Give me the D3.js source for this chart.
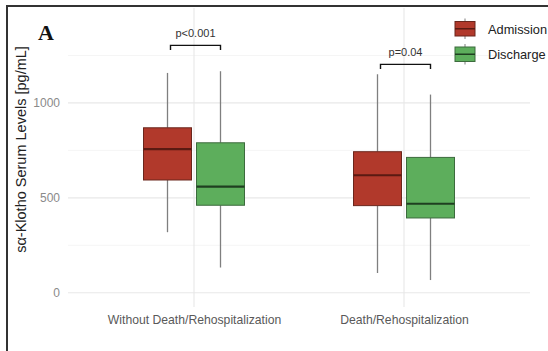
<!DOCTYPE html>
<html><head><meta charset="utf-8">
<script src="https://cdn.jsdelivr.net/npm/d3@7"></script>
<style>body{margin:0;background:#fff}svg{display:block}</style>
</head><body>
<svg id="c" width="548" height="351"></svg>
<script>
const groups = ["Without Death/Rehospitalization", "Death/Rehospitalization"];
const series = ["Admission", "Discharge"];
// [whiskerLow, q1, median, q3, whiskerHigh] per group
const admission = [[319, 594, 757, 869, 1158], [104, 459, 619, 743, 1151]];
const discharge = [[133, 461, 559, 790, 1167], [67, 394, 469, 713, 1044]];
const pLabels = ["p<0.001", "p=0.04"];
const pBracket = [1303, 1203];
const yTicks = [0, 500, 1000];
const yMinor = [250, 750, 1250];

const svg = d3.select("#c");
const fills = {Admission: "#b1392b", Discharge: "#5dae5c"};
const strokes = {Admission: "#6a261c", Discharge: "#3c6b3d"};
const meds = {Admission: "#5a1a12", Discharge: "#1f3f20"};

const y = d3.scaleLinear().domain([-75, 1500]).range([307, 8]);
const x = d3.scalePoint().domain(groups).range([68, 530]).padding(0.6);
const off = d3.scalePoint().domain(series).range([-26.5, 26.5]);
const bw = 48;

// frame
svg.append("line").attr("x1", 7).attr("x2", 7).attr("y1", 6).attr("y2", 351).attr("stroke", "#333").attr("stroke-width", 2);
svg.append("line").attr("x1", 6).attr("x2", 548).attr("y1", 6).attr("y2", 6).attr("stroke", "#333").attr("stroke-width", 2);

const g = svg.append("g");
// grid
g.selectAll(".minor").data(yMinor).join("line")
  .attr("x1", 68).attr("x2", 530).attr("y1", d => y(d)).attr("y2", d => y(d))
  .attr("stroke", "#f3f3f3").attr("stroke-width", 0.8);
g.selectAll(".major").data(yTicks).join("line")
  .attr("x1", 68).attr("x2", 530).attr("y1", d => y(d)).attr("y2", d => y(d))
  .attr("stroke", "#e8e8e8").attr("stroke-width", 1.1);
g.selectAll(".vmajor").data(groups).join("line")
  .attr("x1", d => x(d)).attr("x2", d => x(d)).attr("y1", 8).attr("y2", 307)
  .attr("stroke", "#e8e8e8").attr("stroke-width", 1.1);

// y axis
const yAxis = d3.axisLeft(y).tickValues(yTicks).tickFormat(d3.format("d")).tickSize(0).tickPadding(0);
const ya = svg.append("g").attr("transform", "translate(60,0)").call(yAxis);
ya.select(".domain").remove();
ya.selectAll("text").attr("font-family", "Liberation Sans, Arial, sans-serif")
  .attr("font-size", 12).attr("fill", "#8a8a8a");

// x axis
const xAxis = d3.axisBottom(x).tickSize(0).tickPadding(0);
const xa = svg.append("g").attr("transform", "translate(0,315)").call(xAxis);
xa.select(".domain").remove();
xa.selectAll("text").attr("font-family", "Liberation Sans, Arial, sans-serif")
  .attr("font-size", 12.2).attr("fill", "#595959");

// y title
svg.append("text").attr("transform", "translate(21,149.5) rotate(-90)")
  .attr("text-anchor", "middle").attr("dominant-baseline", "central")
  .attr("font-family", "Liberation Sans, Arial, sans-serif").attr("font-size", 14.5)
  .attr("fill", "#222").text("sα-Klotho Serum Levels [pg/mL]");

// panel label
svg.append("text").attr("x", 38).attr("y", 40)
  .attr("font-family", "Liberation Serif, Times New Roman, serif").attr("font-weight", "bold")
  .attr("font-size", 22).attr("fill", "#111").text("A");

// boxes
const data = [];
groups.forEach((gr, i) => {
  data.push({g: gr, s: "Admission", v: admission[i]});
  data.push({g: gr, s: "Discharge", v: discharge[i]});
});
const bx = g.selectAll(".box").data(data).join("g")
  .attr("transform", d => `translate(${x(d.g) + off(d.s)},0)`);
bx.append("line").attr("x1", 0).attr("x2", 0)
  .attr("y1", d => y(d.v[0])).attr("y2", d => y(d.v[1])).attr("stroke", "#7f7f7f").attr("stroke-width", 1.3);
bx.append("line").attr("x1", 0).attr("x2", 0)
  .attr("y1", d => y(d.v[3])).attr("y2", d => y(d.v[4])).attr("stroke", "#7f7f7f").attr("stroke-width", 1.3);
bx.append("rect").attr("x", -bw / 2).attr("width", bw)
  .attr("y", d => y(d.v[3])).attr("height", d => y(d.v[1]) - y(d.v[3]))
  .attr("fill", d => fills[d.s]).attr("stroke", d => strokes[d.s]).attr("stroke-width", 1);
bx.append("line").attr("x1", -bw / 2).attr("x2", bw / 2)
  .attr("y1", d => y(d.v[2])).attr("y2", d => y(d.v[2]))
  .attr("stroke", d => meds[d.s]).attr("stroke-width", 2.2);

// significance brackets
groups.forEach((gr, i) => {
  const x1 = x(gr) + off("Admission") + 3, x2 = x(gr) + off("Discharge");
  const yb = y(pBracket[i]);
  svg.append("path").attr("d", `M${x1},${yb + 4.5}V${yb}H${x2}V${yb + 4.5}`)
    .attr("fill", "none").attr("stroke", "#111").attr("stroke-width", 1.4);
  svg.append("text").attr("x", (x1 + x2) / 2).attr("y", yb - 8)
    .attr("text-anchor", "middle").attr("font-family", "Liberation Sans, Arial, sans-serif")
    .attr("font-size", 11).attr("fill", "#333").text(pLabels[i]);
});

// legend
const lg = svg.append("g");
series.forEach((s, i) => {
  const ky = 21.5 + i * 25.5;
  const kx = 455;
  lg.append("line").attr("x1", kx + 10).attr("x2", kx + 10).attr("y1", ky - 3).attr("y2", ky + 17.5)
    .attr("stroke", "#7f7f7f").attr("stroke-width", 1);
  lg.append("rect").attr("x", kx).attr("y", ky).attr("width", 20).attr("height", 14.5)
    .attr("fill", fills[s]).attr("stroke", strokes[s]).attr("stroke-width", 1);
  lg.append("line").attr("x1", kx).attr("x2", kx + 20).attr("y1", ky + 7.25).attr("y2", ky + 7.25)
    .attr("stroke", meds[s]).attr("stroke-width", 1.5);
  lg.append("text").attr("x", 488).attr("y", ky + 7.5).attr("dominant-baseline", "central")
    .attr("font-family", "Liberation Sans, Arial, sans-serif").attr("font-size", 12.8)
    .attr("fill", "#222").text(s);
});
</script>
</body></html>
